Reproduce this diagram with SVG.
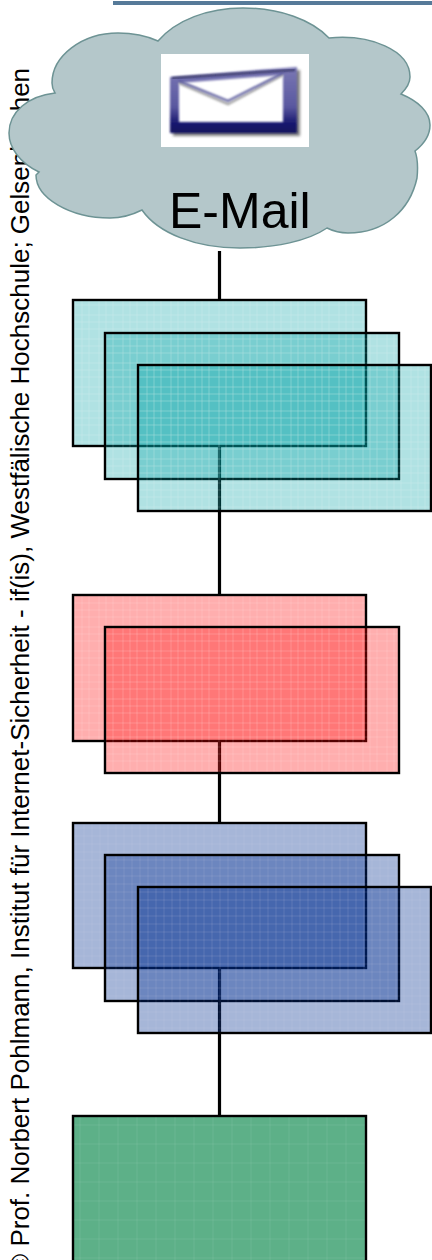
<svg xmlns="http://www.w3.org/2000/svg" width="432" height="1260" viewBox="0 0 432 1260">
<style>
.box{stroke:#000;stroke-width:2.400}
.link{stroke:#000;stroke-width:3.200;fill:none}
.sans{font-family:"Liberation Sans",Arial,sans-serif;fill:#000}
</style>
<defs>
<pattern id="pTeal" patternUnits="userSpaceOnUse" width="24" height="24">
<rect width="24" height="24" fill="#00a0a4" fill-opacity=".31"/>
<path d="M0 3H24M0 10H24M0 17H24M3 0V24M10 0V24M17 0V24" stroke="#fff" stroke-opacity=".14" stroke-width="1" fill="none"/>
</pattern>
<pattern id="pRed" patternUnits="userSpaceOnUse" width="24" height="24">
<rect width="24" height="24" fill="#ff0202" fill-opacity=".32"/>
<path d="M0 3H24M0 10H24M0 17H24M3 0V24M10 0V24M17 0V24" stroke="#fff" stroke-opacity=".12" stroke-width="1" fill="none"/>
</pattern>
<pattern id="pBlue" patternUnits="userSpaceOnUse" width="16" height="16">
<rect width="16" height="16" fill="#002f90" fill-opacity=".35"/>
<path d="M0 4H16M0 12H16M4 0V16M12 0V16" stroke="#fff" stroke-opacity=".07" stroke-width="1" fill="none"/>
</pattern>
<pattern id="pGreen" patternUnits="userSpaceOnUse" width="19" height="19">
<rect width="19" height="19" fill="#5db088"/>
<path d="M0 4H19M4 0V19" stroke="#fff" stroke-opacity=".08" stroke-width="1" fill="none"/>
</pattern>
<linearGradient id="envG" x1="0" y1="0" x2="0" y2="1">
<stop offset="0" stop-color="#7a78b4"/><stop offset=".6" stop-color="#5a58a0"/><stop offset=".85" stop-color="#1a1a70"/><stop offset="1" stop-color="#10105c"/>
</linearGradient>
<filter id="soft" x="-10%" y="-10%" width="120%" height="120%"><feGaussianBlur stdDeviation="1.6"/></filter>
<filter id="soft2" x="-10%" y="-10%" width="120%" height="120%"><feGaussianBlur stdDeviation=".8"/></filter>
</defs>

<rect x="113" y="1" width="319" height="4" fill="#567a99"/>

<text class="sans" transform="translate(29 1273) rotate(-90)" font-size="26">© Prof. Norbert Pohlmann, Institut für Internet-Sicherheit - if(is), Westfälische Hochschule; Gelsenkirchen</text>

<g id="connectors">
<path class="link" d="M219.500 251V300M219.500 446V594M219.500 741V822M219.500 968V1115"/>
</g>

<g id="cloud">
<path d="M158 41C176 20 208 8 243 8C280 8 312 20 329 38C370 34 410 50 410 77C410 83 406 89 401 94C418 101 430 112 430 125C430 135 424 144 415 151C418 159 418 168 417 178C410 210 385 233 348 233C340 233 333 231 327 228C308 241 275 248 240 248C195 248 158 233 142 210C132 215 122 218 110 218C70 218 36 198 36 175L39 172C20 163 9 148 9 133C9 112 28 96 55 93C53 90 52 87 52 83C52 56 82 33 118 33C133 33 147 36 158 41Z" fill="#b4c7ca" stroke="#6d9394" stroke-width="1.500"/>
<rect x="161" y="54" width="148" height="93" fill="#fff"/>
<path d="M173 79L300 70V136H173Z" fill="#555" filter="url(#soft)" opacity=".75"/>
<path d="M170 77L297 67V133H170Z" fill="url(#envG)" filter="url(#soft2)"/>
<path d="M179 83L283 75V122H179Z" fill="#fff" filter="url(#soft2)"/>
<path d="M172 78L295 70" stroke="#22224e" stroke-width="1.500" fill="none" filter="url(#soft2)"/>
<path d="M179 83L228 104L283 75" stroke="#aaa" stroke-width="2.500" fill="none" filter="url(#soft2)"/>
<path d="M179 81L228 101L283 73" stroke="#55559a" stroke-width="2" fill="none" filter="url(#soft2)"/>
<text class="sans" x="169" y="228" font-size="50">E-Mail</text>
</g>

<g id="teal-1"><rect class="box" x="73" y="300" width="293" height="146" fill="url(#pTeal)"/></g>
<g id="teal-2"><rect class="box" x="105" y="333" width="294" height="146" fill="url(#pTeal)"/></g>
<g id="teal-3"><rect class="box" x="138" y="365" width="293" height="146" fill="url(#pTeal)"/></g>
<g id="red-1"><rect class="box" x="73" y="595" width="293" height="146" fill="url(#pRed)"/></g>
<g id="red-2"><rect class="box" x="105" y="627" width="294" height="146" fill="url(#pRed)"/></g>
<g id="blue-1"><rect class="box" x="73" y="823" width="293" height="145" fill="url(#pBlue)"/></g>
<g id="blue-2"><rect class="box" x="105" y="855" width="294" height="146" fill="url(#pBlue)"/></g>
<g id="blue-3"><rect class="box" x="138" y="887" width="293" height="146" fill="url(#pBlue)"/></g>
<g id="green-1"><rect class="box" x="73" y="1116" width="293" height="150" fill="url(#pGreen)"/></g>
</svg>
